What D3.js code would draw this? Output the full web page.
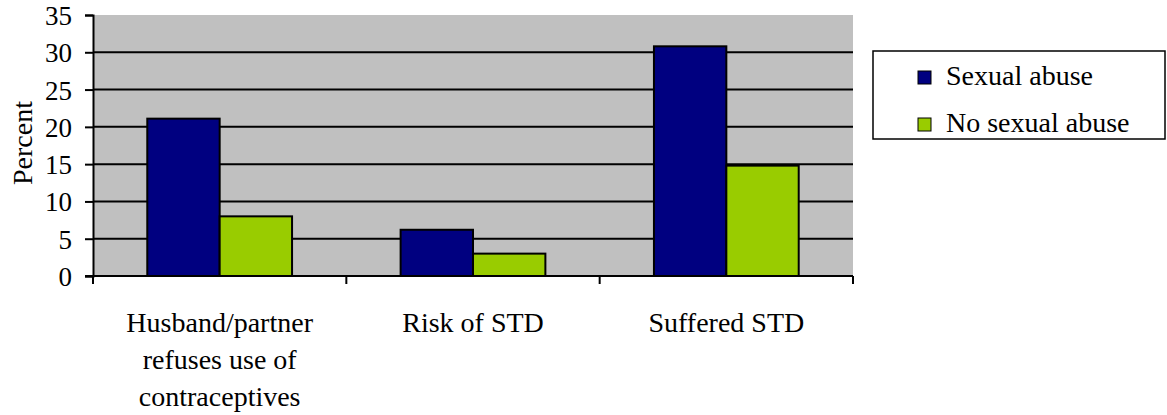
<!DOCTYPE html>
<html>
<head>
<meta charset="utf-8">
<script src="https://cdn.jsdelivr.net/npm/d3@7"></script>
<style>
  body { margin: 0; background: #fff; }
</style>
</head>
<body>
<svg id="chart" width="1167" height="415" font-family="serif"></svg>
<script>
// data
const categories = [
  ['Husband/partner', 'refuses use of', 'contraceptives'],
  ['Risk of STD'],
  ['Suffered STD']
]
const seriesNames = ['Sexual abuse', 'No sexual abuse']
const sexualAbuse = [21.1, 6.2, 30.8]
const noSexualAbuse = [8.0, 3.0, 14.8]
const yTicks = [0, 5, 10, 15, 20, 25, 30, 35]
const colors = ['#000080', '#99CC00']

const FONT = 'serif'

const svg = d3.select('#chart')
const m = { left: 93, top: 15, right: 853, bottom: 276 }

const x = d3.scaleBand()
  .domain(d3.range(categories.length))
  .range([m.left, m.right])
  .paddingInner(0)
  .paddingOuter(0)

// excel-ish gap width 150%
const barW = x.bandwidth() / 3.5
const x1 = d3.scaleBand()
  .domain(d3.range(seriesNames.length))
  .range([0, barW * 2])

const y = d3.scaleLinear().domain([0, 35]).range([m.bottom, m.top])

// plot background
svg.append('rect')
  .attr('x', m.left).attr('y', m.top)
  .attr('width', m.right - m.left).attr('height', m.bottom - m.top)
  .attr('fill', '#C0C0C0')

// gridlines
svg.append('g')
  .selectAll('line')
  .data(yTicks.filter(d => d > 0 && d < 35))
  .join('line')
  .attr('x1', m.left).attr('x2', m.right)
  .attr('y1', d => y(d)).attr('y2', d => y(d))
  .attr('stroke', '#000').attr('stroke-width', 2)

// bars
const values = [sexualAbuse, noSexualAbuse]
categories.forEach((c, i) => {
  const g = svg.append('g')
    .attr('transform', `translate(${x(i) + (x.bandwidth() - barW * 2) / 2},0)`)
  values.forEach((vals, s) => {
    g.append('rect')
      .attr('x', x1(s))
      .attr('y', y(vals[i]))
      .attr('width', x1.bandwidth())
      .attr('height', y(0) - y(vals[i]))
      .attr('fill', colors[s])
      .attr('stroke', '#000')
      .attr('stroke-width', 2)
  })
})

// y axis
const yAxis = svg.append('g')
  .attr('transform', `translate(${m.left},0)`)
  .call(d3.axisLeft(y).tickValues(yTicks).tickSize(8).tickPadding(13))
yAxis.attr('font-family', FONT).attr('font-size', 27)
yAxis.select('.domain').attr('stroke', '#000').attr('stroke-width', 2)
yAxis.selectAll('.tick line').attr('stroke', '#000').attr('stroke-width', 2)
yAxis.selectAll('.tick text')
  .attr('fill', '#000')
  .attr('dy', '0.35em')

// x axis
const xAxis = svg.append('g')
  .attr('transform', `translate(0,${m.bottom})`)
xAxis.append('line')
  .attr('x1', m.left - 8).attr('x2', m.right)
  .attr('stroke', '#000').attr('stroke-width', 2)
xAxis.selectAll('.xt')
  .data(d3.range(categories.length + 1))
  .join('line')
  .attr('x1', d => d < categories.length ? x(d) : m.right)
  .attr('x2', d => d < categories.length ? x(d) : m.right)
  .attr('y1', 0).attr('y2', 8)
  .attr('stroke', '#000').attr('stroke-width', 2)

categories.forEach((lines, i) => {
  const t = svg.append('text')
    .attr('text-anchor', 'middle')
    .attr('font-size', 28)
  lines.forEach((ln, j) => {
    t.append('tspan')
      .attr('x', x(i) + x.bandwidth() / 2)
      .attr('y', 332 + j * 37)
      .text(ln)
  })
})

// y title
svg.append('text')
  .attr('transform', `translate(32,143) rotate(-90)`)
  .attr('text-anchor', 'middle')
  .attr('font-size', 28)
  .text('Percent')

// legend
const lg = svg.append('g')
lg.append('rect')
  .attr('x', 873).attr('y', 51)
  .attr('width', 292).attr('height', 88)
  .attr('fill', '#fff').attr('stroke', '#000').attr('stroke-width', 1.5)
seriesNames.forEach((n, s) => {
  const base = 85 + s * 47
  lg.append('rect')
    .attr('x', 918).attr('y', base - 14)
    .attr('width', 13).attr('height', 13)
    .attr('fill', colors[s]).attr('stroke', '#000').attr('stroke-width', 1)
  lg.append('text')
    .attr('x', 946).attr('y', base)
    .attr('font-size', 28)
    .text(n)
})
</script>
</body>
</html>
